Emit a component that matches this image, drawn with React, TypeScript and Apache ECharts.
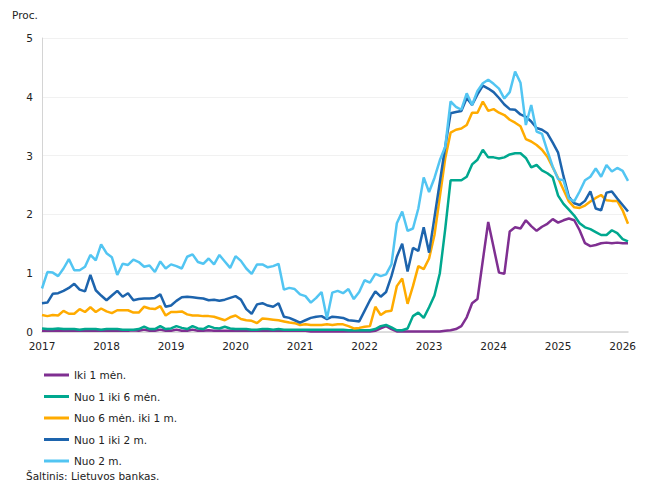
import React, { useEffect, useRef } from "react";
import * as echarts from "echarts";

// Monthly categories: Jan 2017 .. Feb 2026 (110 months)
const months: string[] = [];
for (let y = 2017; y <= 2026; y++) {
  for (let m = 1; m <= 12; m++) {
    if (months.length < 110) months.push(`${y}-${m < 10 ? "0" + m : m}`);
  }
}

const seriesNames = [
  "Iki 1 mėn.",
  "Nuo 1 iki 6 mėn.",
  "Nuo 6 mėn. iki 1 m.",
  "Nuo 1 iki 2 m.",
  "Nuo 2 m.",
];

const iki1men = [
  0.02, 0.02, 0.02, 0.02, 0.02, 0.02, 0.02, 0.02, 0.02, 0.02,
  0.02, 0.02, 0.02, 0.02, 0.02, 0.02, 0.02, 0.03, 0.02, 0.04,
  0.02, 0.02, 0.04, 0.02, 0.02, 0.04, 0.02, 0.02, 0.04, 0.02,
  0.02, 0.03, 0.02, 0.02, 0.02, 0.02, 0.02, 0.02, 0.02, 0.02,
  0.02, 0.02, 0.02, 0.02, 0.02, 0.02, 0.02, 0.02, 0.02, 0.02,
  0.01, 0.01, 0.01, 0.01, 0.01, 0.01, 0.01, 0.01, 0.01, 0.01,
  0.01, 0.01, 0.02, 0.06, 0.10, 0.05, 0.01, 0.01, 0.01, 0.01,
  0.01, 0.01, 0.01, 0.01, 0.01, 0.02, 0.03, 0.05, 0.10, 0.25,
  0.49, 0.56, 1.22, 1.87, 1.44, 1.01, 0.99, 1.71, 1.78, 1.76,
  1.90, 1.80, 1.72, 1.79, 1.84, 1.92, 1.86, 1.90, 1.93, 1.90,
  1.73, 1.51, 1.46, 1.48, 1.51, 1.52, 1.51, 1.52, 1.51, 1.51,
];

const nuo1iki6men = [
  0.06, 0.05, 0.05, 0.06, 0.05, 0.05, 0.05, 0.04, 0.05, 0.05,
  0.05, 0.04, 0.05, 0.05, 0.05, 0.04, 0.04, 0.04, 0.05, 0.09,
  0.05, 0.05, 0.10, 0.05, 0.06, 0.10, 0.07, 0.05, 0.10, 0.06,
  0.05, 0.10, 0.07, 0.06, 0.09, 0.06, 0.05, 0.05, 0.05, 0.04,
  0.04, 0.05, 0.05, 0.04, 0.05, 0.04, 0.04, 0.04, 0.04, 0.04,
  0.04, 0.04, 0.04, 0.04, 0.04, 0.04, 0.04, 0.03, 0.03, 0.03,
  0.03, 0.03, 0.05, 0.10, 0.12, 0.08, 0.03, 0.03, 0.06, 0.27,
  0.33, 0.24, 0.42, 0.62, 1.00, 1.75, 2.58, 2.58, 2.58, 2.64,
  2.85, 2.93, 3.10, 2.97, 2.97, 2.95, 2.97, 3.02, 3.04, 3.04,
  2.96, 2.80, 2.84, 2.75, 2.70, 2.63, 2.32, 2.18, 2.08, 1.98,
  1.85, 1.78, 1.75, 1.70, 1.65, 1.65, 1.73, 1.68, 1.58, 1.54,
];

const nuo6men1m = [
  0.29, 0.27, 0.29, 0.28, 0.36, 0.31, 0.31, 0.39, 0.34, 0.42,
  0.34, 0.40, 0.35, 0.32, 0.37, 0.37, 0.37, 0.33, 0.33, 0.43,
  0.40, 0.39, 0.44, 0.28, 0.34, 0.34, 0.35, 0.30, 0.28, 0.28,
  0.27, 0.27, 0.26, 0.23, 0.20, 0.25, 0.28, 0.22, 0.20, 0.19,
  0.15, 0.23, 0.22, 0.21, 0.20, 0.18, 0.16, 0.15, 0.12, 0.13,
  0.12, 0.12, 0.12, 0.13, 0.12, 0.13, 0.13, 0.10, 0.06, 0.07,
  0.09, 0.10, 0.43, 0.29, 0.35, 0.36, 0.78, 0.91, 0.48, 0.78,
  1.12, 1.07, 1.25, 1.65, 2.30, 2.95, 3.39, 3.44, 3.46, 3.52,
  3.73, 3.73, 3.92, 3.76, 3.79, 3.73, 3.69, 3.61, 3.56, 3.50,
  3.28, 3.24, 3.18, 3.10, 2.98, 2.80, 2.62, 2.42, 2.22, 2.12,
  2.11, 2.15, 2.22, 2.28, 2.33, 2.24, 2.23, 2.23, 2.07, 1.84,
];

const nuo1iki2m = [
  0.49, 0.50, 0.65, 0.66, 0.70, 0.75, 0.82, 0.72, 0.69, 0.97,
  0.71, 0.62, 0.54, 0.62, 0.70, 0.60, 0.66, 0.54, 0.56, 0.57,
  0.57, 0.58, 0.64, 0.43, 0.45, 0.53, 0.59, 0.60, 0.59, 0.58,
  0.57, 0.54, 0.55, 0.53, 0.55, 0.58, 0.61, 0.55, 0.39, 0.31,
  0.47, 0.49, 0.45, 0.43, 0.49, 0.26, 0.24, 0.20, 0.16, 0.20,
  0.24, 0.26, 0.27, 0.22, 0.26, 0.25, 0.24, 0.20, 0.19, 0.18,
  0.36, 0.54, 0.69, 0.60, 0.68, 0.95, 1.28, 1.50, 1.03, 1.43,
  1.38, 1.78, 1.35, 1.95, 2.55, 3.15, 3.72, 3.74, 3.76, 3.98,
  3.86, 4.04, 4.19, 4.14, 4.08, 3.98, 3.87, 3.79, 3.78, 3.70,
  3.66, 3.58, 3.47, 3.44, 3.38, 3.22, 3.05, 2.65, 2.30, 2.19,
  2.16, 2.23, 2.39, 2.10, 2.07, 2.37, 2.39, 2.27, 2.16, 2.05,
];

const nuo2m = [
  0.74, 1.02, 1.01, 0.95, 1.08, 1.24, 1.05, 1.05, 1.11, 1.31,
  1.22, 1.49, 1.34, 1.27, 0.97, 1.16, 1.14, 1.23, 1.19, 1.11,
  1.13, 1.02, 1.20, 1.08, 1.15, 1.12, 1.08, 1.28, 1.32, 1.19,
  1.16, 1.25, 1.15, 1.31, 1.20, 1.09, 1.29, 1.21, 1.08, 0.99,
  1.15, 1.15, 1.10, 1.12, 1.16, 0.72, 0.75, 0.73, 0.64, 0.61,
  0.50, 0.58, 0.68, 0.23, 0.67, 0.70, 0.66, 0.73, 0.56, 0.68,
  0.88, 0.84, 0.99, 0.95, 0.98, 1.15, 1.85, 2.05, 1.72, 1.76,
  2.10, 2.63, 2.38, 2.62, 2.92, 3.15, 3.92, 3.83, 3.78, 4.06,
  3.86, 4.10, 4.23, 4.29, 4.22, 4.14, 3.97, 4.08, 4.43, 4.24,
  3.52, 3.86, 3.41, 3.37, 3.08, 2.81, 2.60, 2.58, 2.27, 2.22,
  2.39, 2.58, 2.64, 2.78, 2.64, 2.84, 2.73, 2.79, 2.74, 2.57,
];

const seriesData = [iki1men, nuo1iki6men, nuo6men1m, nuo1iki2m, nuo2m];
const colors = ["#7f2f91", "#00a88f", "#ffab00", "#1d64ad", "#52c5f2"];

const FONT = "DejaVu Sans";

export default function App() {
  const ref = useRef<HTMLDivElement>(null);

  useEffect(() => {
    if (!ref.current) return;
    const chart = echarts.init(ref.current, null, { renderer: "svg" });
    chart.setOption({
      animation: false,
      backgroundColor: "#ffffff",
      color: colors,
      textStyle: { fontFamily: FONT },
      grid: { left: 42, right: 22, top: 38, bottom: 168, containLabel: false },
      legend: {
        orient: "vertical",
        left: 39,
        top: 363,
        icon: "rect",
        itemWidth: 25,
        itemHeight: 3,
        itemGap: 7.5,
        data: seriesNames,
        textStyle: { fontFamily: FONT, fontSize: 10.5, color: "#222", lineHeight: 14 },
      },
      xAxis: {
        type: "category",
        data: months,
        boundaryGap: false,
        axisLine: { show: true, lineStyle: { color: "#d4d4d4", width: 1.5 } },
        axisTick: { show: false },
        splitLine: { show: false },
        axisLabel: {
          interval: (i: number) => i % 12 === 0,
          formatter: (v: string) => v.slice(0, 4),
          fontFamily: FONT,
          fontSize: 10.5,
          color: "#222",
          margin: 8,
        },
      },
      yAxis: {
        type: "value",
        min: 0,
        max: 5,
        interval: 1,
        axisLine: { show: true, lineStyle: { color: "#d4d4d4", width: 1 } },
        axisTick: { show: false },
        splitLine: { show: true, lineStyle: { color: "#f1f1f1", width: 1 } },
        axisLabel: { fontFamily: FONT, fontSize: 10.5, color: "#222", margin: 9 },
      },
      graphic: [
        {
          type: "text",
          left: 12,
          top: 9,
          style: { text: "Proc.", fontFamily: FONT, fontSize: 10.5, fill: "#222" },
        },
        {
          type: "text",
          left: 26,
          top: 470,
          style: { text: "Šaltinis: Lietuvos bankas.", fontFamily: FONT, fontSize: 10.5, fill: "#222" },
        },
      ],
      series: seriesNames.map((name, i) => ({
        name,
        type: "line",
        data: seriesData[i],
        symbol: "none",
        lineStyle: { width: 2.5, color: colors[i] },
        itemStyle: { color: colors[i] },
        emphasis: { disabled: true },
      })),
    });
    return () => chart.dispose();
  }, []);

  return (
    <div
      ref={ref}
      style={{ position: "absolute", left: 0, top: 0, width: 650, height: 500 }}
    />
  );
}
